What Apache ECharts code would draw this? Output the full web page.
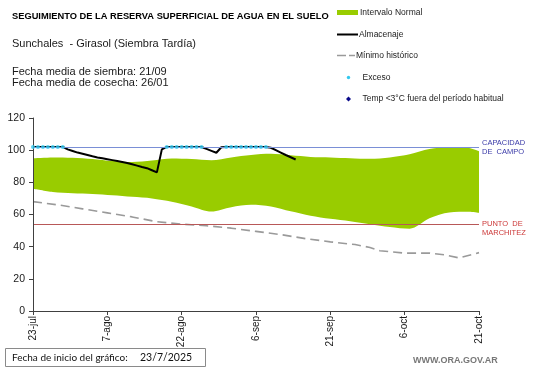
<!DOCTYPE html>
<html>
<head>
<meta charset="utf-8">
<script src="https://cdn.jsdelivr.net/npm/echarts@6/dist/echarts.min.js"></script>
<style>
html,body{margin:0;padding:0;background:#fff;}
#chart{width:541px;height:368px;}
</style>
</head>
<body>
<div id="chart"></div>
<script>
// ---- data ----
const monthNames = ['ene','feb','mar','abr','may','jun','jul','ago','sep','oct','nov','dic'];
const startYear = 2025, startMonth = 6, startDay = 23; // 23/7/2025
const nDays = 91;
const categories = [];
for (let i = 0; i < nDays; i++) {
  const d = new Date(startYear, startMonth, startDay + i);
  categories.push(d.getDate() + '-' + monthNames[d.getMonth()]);
}
const capacidadCampo = 102;
const puntoMarchitez = 54;

// Intervalo normal (band), day offsets from 23-jul
const bandDays  = [0, 4, 8, 12, 16, 20, 24, 28, 32, 36, 40, 44, 48, 52, 56, 60, 64, 68, 72, 76, 80, 84, 88, 90];
const bandUpper = [95, 95.5, 95.3, 94.5, 93.2, 92.6, 93.5, 94.8, 94.5, 93.8, 95.5, 97, 97.7, 96.8, 95.8, 95.5, 95, 94.6, 95.5, 97.5, 100.7, 102, 101.4, 99.4];
const bandLower = [76, 74, 73.2, 72.8, 72, 71, 70, 68, 65, 61.8, 64.5, 66, 65, 62, 59.3, 57.3, 55.8, 54, 52.3, 51.2, 57.7, 61.3, 61.7, 61];

// Mínimo histórico
const minDays = [0, 5, 10, 15, 20, 25, 30, 35, 40, 45, 50, 55, 60, 65, 68, 70, 75, 80, 83, 86, 90];
const minVals = [68, 66, 63.5, 61, 58.5, 55.5, 54, 53, 51.5, 49.5, 47.5, 45, 43, 41.3, 39.5, 37.5, 36, 36, 35, 33, 36.3];

// Almacenaje (daily, from day 0)
const almacenaje = [
  102, 102, 102, 102, 102, 102, 102, 100.5, 99.5, 98.5,
  97.8, 97, 96.2, 95.5, 95, 94.4, 93.8, 93.2, 92.6, 92,
  91.2, 90.4, 89.5, 88.8, 87.5, 86.2, 100.5, 102, 102, 102,
  102, 102, 102, 102, 102, 100.8, 99.6, 98.4, 101.8, 102,
  102, 102, 102, 102, 102, 102, 102, 102, 101.5, 100,
  98.5, 97, 95.6, 94.2
];

// ---- build ----
const bandUpperData = bandDays.map((d, i) => [d, bandUpper[i]]);
const bandLowerData = bandDays.map((d, i) => [d, bandLower[i]]);
const minData = minDays.map((d, i) => [d, minVals[i]]);
const almData = almacenaje.map((v, i) => [i, v]);
const excesoData = almacenaje.map((v, i) => [i, v]).filter(p => p[1] >= capacidadCampo);

const FONT = '"Liberation Sans", Arial, sans-serif';
const chart = echarts.init(document.getElementById('chart'), null, {renderer: 'canvas'});

chart.setOption({
  animation: false,
  backgroundColor: '#fff',
  grid: {left: 33, right: 62, top: 118, bottom: 57, containLabel: false, outerBoundsMode: 'none'},
  xAxis: {
    type: 'value', min: 0, max: 90, interval: 15, z: 5,
    axisLine: {show: true, lineStyle: {color: '#404040', width: 1}},
    axisTick: {show: true, length: 4, lineStyle: {color: '#404040'}},
    splitLine: {show: false},
    axisLabel: {
      rotate: 90, margin: 5, fontFamily: FONT, fontSize: 10, color: '#1a1a1a',
      formatter: v => categories[v]
    }
  },
  yAxis: {
    type: 'value', min: 0, max: 120, interval: 20, z: 5,
    name: 'Milímetros', nameLocation: 'middle', nameGap: 27, nameRotate: 90,
    nameTextStyle: {fontFamily: FONT, fontSize: 6.5, color: '#1a1a1a'},
    axisLine: {show: true, lineStyle: {color: '#404040', width: 1}},
    axisTick: {show: true, length: 4, lineStyle: {color: '#404040'}},
    splitLine: {show: false},
    axisLabel: {margin: 8, fontFamily: FONT, fontSize: 10.5, color: '#1a1a1a'}
  },
  series: [
    {
      name: 'Intervalo Normal', type: 'line', data: bandUpperData,
      smooth: 0.3, symbol: 'none', lineStyle: {opacity: 0},
      areaStyle: {color: '#99CC00', opacity: 1}, silent: true, z: 2
    },
    {
      name: 'bandLowerMask', type: 'line', data: bandLowerData,
      smooth: 0.3, symbol: 'none', lineStyle: {opacity: 0},
      areaStyle: {color: '#ffffff', opacity: 1}, silent: true, z: 2
    },
    {
      name: 'Mínimo histórico', type: 'line', data: minData, symbol: 'none',
      lineStyle: {color: '#9a9a9a', width: 1.6, type: [9, 5]}, z: 3,
      markLine: {
        silent: true, symbol: 'none', animation: false,
        data: [
          {
            yAxis: capacidadCampo,
            lineStyle: {color: '#7a8fd6', width: 1, type: 'solid'},
            label: {
              show: true, position: 'end', distance: 3, formatter: 'CAPACIDAD\nDE  CAMPO',
              fontFamily: FONT, fontSize: 7.5, lineHeight: 9, color: '#3a3aa8'
            }
          },
          {
            yAxis: puntoMarchitez,
            lineStyle: {color: '#b85858', width: 1, type: 'solid'},
            label: {
              show: true, position: 'end', distance: 3, formatter: '\nPUNTO  DE\nMARCHITEZ',
              fontFamily: FONT, fontSize: 7.5, lineHeight: 9, color: '#cc3838'
            }
          }
        ]
      }
    },
    {
      name: 'Almacenaje', type: 'line', data: almData, symbol: 'none',
      lineStyle: {color: '#000', width: 2}, z: 4
    },
    {
      name: 'Exceso', type: 'scatter', data: excesoData, symbol: 'circle', symbolSize: 4,
      itemStyle: {color: '#33c8ee'}, z: 5
    }
  ],
  graphic: [
    {type: 'text', x: 12, y: 16, style: {text: 'SEGUIMIENTO DE LA RESERVA SUPERFICIAL DE AGUA EN EL SUELO', font: 'bold 9.3px ' + FONT, fill: '#000', verticalAlign: 'middle'}},
    {type: 'text', x: 12, y: 44, style: {text: 'Sunchales  - Girasol (Siembra Tardía)', font: '11px ' + FONT, fill: '#1a1a1a', verticalAlign: 'middle'}},
    {type: 'text', x: 12, y: 72, style: {text: 'Fecha media de siembra: 21/09', font: '11px ' + FONT, fill: '#1a1a1a', verticalAlign: 'middle'}},
    {type: 'text', x: 12, y: 83, style: {text: 'Fecha media de cosecha: 26/01', font: '11px ' + FONT, fill: '#1a1a1a', verticalAlign: 'middle'}},
    // legend
    {type: 'rect', shape: {x: 337, y: 10, width: 21, height: 5}, style: {fill: '#99CC00'}},
    {type: 'text', x: 360, y: 12.5, style: {text: 'Intervalo Normal', font: '8.5px ' + FONT, fill: '#222', verticalAlign: 'middle'}},
    {type: 'line', shape: {x1: 337, y1: 34.5, x2: 358, y2: 34.5}, style: {stroke: '#000', lineWidth: 2}},
    {type: 'text', x: 359, y: 34.5, style: {text: 'Almacenaje', font: '8.5px ' + FONT, fill: '#222', verticalAlign: 'middle'}},
    {type: 'line', shape: {x1: 337, y1: 55.5, x2: 355, y2: 55.5}, style: {stroke: '#9a9a9a', lineWidth: 1.3, lineDash: [9, 3]}},
    {type: 'text', x: 356, y: 55.5, style: {text: 'Mínimo histórico', font: '8.5px ' + FONT, fill: '#222', verticalAlign: 'middle'}},
    {type: 'circle', shape: {cx: 348.5, cy: 77.5, r: 1.7}, style: {fill: '#33c8ee'}},
    {type: 'text', x: 362.5, y: 77.5, style: {text: 'Exceso', font: '8.5px ' + FONT, fill: '#222', verticalAlign: 'middle'}},
    {type: 'polygon', shape: {points: [[348.5, 96.5], [351, 99], [348.5, 101.5], [346, 99]]}, style: {fill: '#0a0a8a'}},
    {type: 'text', x: 362.5, y: 99, style: {text: 'Temp <3°C fuera del período habitual', font: '8.5px ' + FONT, fill: '#222', verticalAlign: 'middle'}},
    // start-date box
    {type: 'rect', shape: {x: 5.5, y: 348.5, width: 200, height: 18}, style: {fill: '#fff', stroke: '#8a8a8a', lineWidth: 1}},
    {type: 'text', x: 12, y: 358, style: {text: 'Fecha de inicio del gráfico:', font: '10px Lato, ' + FONT, fill: '#111', verticalAlign: 'middle'}},
    {type: 'text', x: 140, y: 358, style: {text: '23/7/2025', font: '10.5px Lato, ' + FONT, fill: '#111', verticalAlign: 'middle'}},
    {type: 'text', x: 413, y: 361, style: {text: 'WWW.ORA.GOV.AR', font: 'bold 9px ' + FONT, fill: '#777', verticalAlign: 'middle'}}
  ]
});
</script>
</body>
</html>
